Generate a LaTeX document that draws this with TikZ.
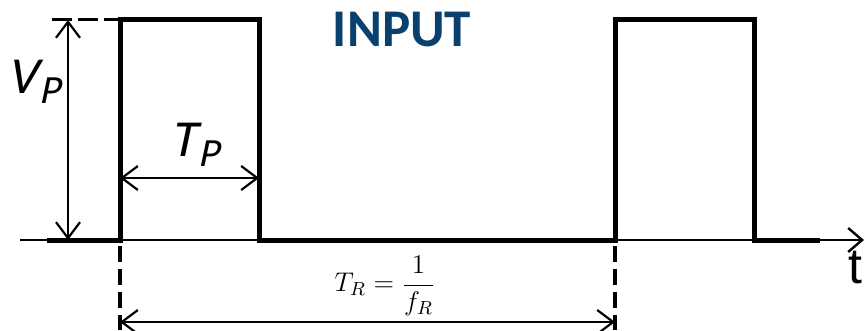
\RequirePackage{fix-cm}
\documentclass[tikz,border=0pt]{standalone}
\usepackage{amsmath}
\usepackage{fontspec}
\setmainfont{Carlito}
\newfontfamily\slantfont{Carlito}[FakeSlant=0.21]
\newfontfamily\arialfont{Liberation Sans}
\usetikzlibrary{arrows.meta}
\definecolor{inputblue}{HTML}{0A406E}
\newcommand{\pulselbl}[2]{{\slantfont #1}\kern1.5pt\raisebox{-5pt}{\fontsize{20}{20}\selectfont\slantfont #2}}

\begin{document}
\begin{tikzpicture}[
  x=0.5pt, y=-0.5pt,
  signal/.style={line width=2.5pt, line join=miter},
  axisline/.style={line width=1pt, -{Straight Barb[length=7pt, width=12pt, line width=1.2pt]}},
  guide/.style={line width=2pt, dash pattern=on 8pt off 3.5pt},
  dim/.style={line width=1.1pt, {Straight Barb[length=8pt, width=12pt, line width=1.1pt]}-{Straight Barb[length=8pt, width=12pt, line width=1.1pt]}},
  lbl/.style={font=\fontsize{26}{28}\selectfont, inner sep=0pt}
]
\useasboundingbox (0,0) rectangle (865,331);
% time axis
\coordinate (ax0) at (20,240);
\coordinate (ax1) at (864,240);
\draw[axisline] (ax0) -- (ax1);
% pulse train
\coordinate (p0) at (47,240);
\coordinate (r1) at (120,240);
\coordinate (r1top) at (120,20);
\coordinate (f1top) at (259,20);
\coordinate (f1) at (259,240);
\coordinate (r2) at (615,240);
\coordinate (r2top) at (615,20);
\coordinate (f2top) at (754,20);
\coordinate (f2) at (754,240);
\coordinate (p1) at (820,240);
\draw[signal] (p0) -- (r1) -- (r1top) -- (f1top) -- (f1) -- (r2) -- (r2top) -- (f2top) -- (f2) -- (p1);
% guides
\coordinate (vtop) at (52,20);
\coordinate (g1) at (120,330);
\coordinate (g2) at (615,330);
\draw[line width=1.5pt, dash pattern=on 10pt off 3pt] (vtop) -- (r1top);
\draw[guide] ([yshift=-3pt]r1) -- (g1);
\draw[guide] ([yshift=-3pt]r2) -- (g2);
% dimensions
\coordinate (va) at (68,20);
\coordinate (vb) at (68,240);
\draw[dim] (va) -- (vb);
\coordinate (ta) at (120,178);
\coordinate (tb) at (259,178);
\draw[dim] (ta) -- (tb);
\coordinate (ra) at (120,322);
\coordinate (rb) at (615,322);
\draw[dim] (ra) -- (rb);
% labels
\node[lbl] (vp) at (34,82) {\pulselbl{V}{P}};
\node[lbl] (tp) at (195,145) {\pulselbl{T}{P}};
\node[font=\fontsize{26.5}{28}\selectfont\bfseries, text=inputblue, inner sep=0pt] (title) at (402,30) {INPUT};
\node[font=\fontsize{13.5}{16}\selectfont, inner sep=0pt] (tr) at (385,286) {$T_R=\dfrac{1}{f_R}$};
\node[font=\arialfont\fontsize{25}{27}\selectfont, inner sep=0pt, anchor=base west] (tlbl) at (848,283) {t};
\end{tikzpicture}
\end{document}
